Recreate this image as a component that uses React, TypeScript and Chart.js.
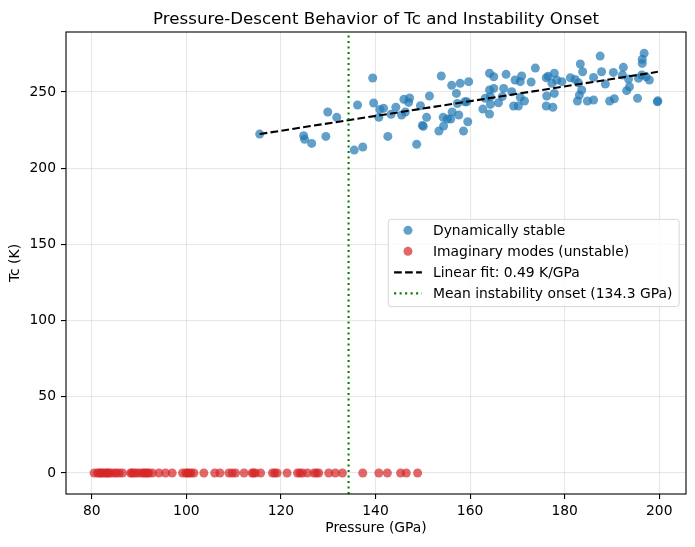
import React, { useEffect, useRef } from 'react';
import { Chart, registerables } from 'chart.js';

Chart.register(...registerables);

const chartTitle = 'Pressure-Descent Behavior of Tc and Instability Onset';
const xTitle = 'Pressure (GPa)';
const yTitle = 'Tc (K)';

// dynamically stable structures
const stablePressure = [
    115.5, 124.8, 125.0, 126.5, 129.5, 129.9, 131.8, 135.5, 136.2, 137.3,
    139.4, 139.6, 140.7, 140.9, 141.7, 142.6, 143.3, 144.3, 145.5, 146.0,
    146.3, 147.0, 147.2, 148.7, 149.5, 149.9, 150.1, 150.8, 151.4, 153.4,
    153.9, 154.3, 154.4, 155.2, 155.9, 156.1, 156.2, 157.1, 157.3, 157.6,
    157.9, 158.6, 158.9, 159.3, 159.5, 159.7, 162.7, 163.2, 164.1, 164.1,
    164.1, 164.3, 164.3, 165.0, 165.0, 166.0, 166.8, 167.1, 167.6, 168.8,
    169.2, 169.5, 170.2, 170.6, 170.6, 170.9, 171.5, 172.9, 173.8, 176.1,
    176.1, 176.2, 176.5, 177.3, 177.5, 177.8, 177.8, 178.3, 179.4, 181.2,
    182.2, 182.7, 182.9, 183.1, 183.3, 183.6, 183.8, 184.8, 186.1, 186.1,
    187.5, 187.8, 188.6, 189.5, 190.3, 190.5, 192.2, 192.4, 193.1, 193.5,
    193.7, 195.4, 195.6, 196.3, 196.4, 196.4, 196.8, 197.2, 197.9, 199.6,
    199.7,
];
const stableTc = [
    222.4, 221.3, 219.0, 216.3, 220.9, 236.9, 233.4, 211.9, 241.5, 213.9,
    259.2, 242.8, 233.4, 238.6, 239.3, 220.9, 235.4, 240.0, 234.9, 245.2,
    236.9, 243.2, 246.1, 215.7, 241.0, 228.1, 227.5, 233.4, 247.4, 224.4,
    260.5, 233.4, 227.7, 232.3, 232.3, 254.4, 236.9, 249.1, 242.5, 234.9,
    255.7, 224.4, 243.6, 243.6, 230.5, 256.8, 238.8, 245.9, 262.3, 251.3,
    235.6, 246.9, 241.9, 260.0, 252.4, 243.0, 247.0, 252.4, 261.6, 250.2,
    240.8, 257.9, 240.8, 256.8, 246.5, 260.5, 244.1, 256.6, 265.7, 259.4,
    240.8, 247.4, 260.4, 255.7, 240.0, 262.3, 249.1, 257.9, 256.8, 259.4,
    258.3, 244.1, 256.1, 248.0, 268.4, 251.3, 263.3, 244.1, 259.6, 244.8,
    273.6, 263.3, 255.2, 244.1, 262.9, 245.6, 261.2, 266.2, 250.9, 258.5,
    253.5, 245.9, 259.0, 261.2, 268.8, 271.5, 275.4, 260.0, 257.9, 243.6,
    244.2,
];

// structures with imaginary phonon modes, plotted at Tc = 0
const unstablePressure = [
    80.5, 81.2, 81.5, 81.9, 82.2, 82.6, 83.0, 83.3, 83.6, 84.0,
    84.7, 85.2, 85.8, 86.5, 88.2, 88.5, 88.9, 89.4, 90.0, 90.7,
    91.0, 91.4, 91.8, 92.1, 92.8, 94.2, 95.6, 97.0, 99.2, 99.9,
    100.2, 100.6, 101.0, 101.6, 103.7, 106.0, 107.1, 109.0, 109.7, 110.4,
    112.2, 113.9, 114.2, 114.6, 115.7, 118.2, 118.7, 119.2, 121.3, 123.5,
    124.0, 124.5, 125.6, 127.0, 127.5, 128.0, 130.1, 131.5, 133.0, 137.3,
    140.7, 142.5, 145.3, 146.5, 148.9,
];
const unstableTc = 0;

const fitSlope = 0.485;
const fitIntercept = 166.4;
const onsetPressure = 134.3;

const xMin = 74.55;
const xMax = 205.65;
const yMin = -13.8;
const yMax = 289.4;

const legendLabels = [
    'Dynamically stable',
    'Imaginary modes (unstable)',
    'Linear fit: 0.49 K/GPa',
    `Mean instability onset (${onsetPressure} GPa)`,
];

const FONT = '"DejaVu Sans", "Liberation Sans", sans-serif';
const BLUE = 'rgba(31, 119, 180, 0.7)';
const RED = 'rgba(214, 39, 40, 0.7)';
const GREEN = '#008000';
const DASH = [7.7, 3.3];
const DOT = [2.1, 3.4];
const LINE_W = 2.08;
const POINT_R = 4.5;

// title, axes frame and matplotlib-like legend
const decorPlugin = {
    id: 'decor',
    afterDatasetsDraw(chart: any) {
        const { ctx, chartArea } = chart;
        ctx.save();
        ctx.strokeStyle = '#000';
        ctx.lineWidth = 1.1;
        ctx.strokeRect(chartArea.left, chartArea.top, chartArea.right - chartArea.left, chartArea.bottom - chartArea.top);

        ctx.fillStyle = '#000';
        ctx.font = `16.67px ${FONT}`;
        ctx.textAlign = 'center';
        ctx.textBaseline = 'alphabetic';
        ctx.fillText(chartTitle, (chartArea.left + chartArea.right) / 2, 24.3);
        ctx.restore();
    },
    afterDraw(chart: any) {
        const { ctx, chartArea } = chart;
        const fs = 13.89;
        ctx.save();
        ctx.font = `${fs}px ${FONT}`;
        const textW = Math.max(...legendLabels.map((l) => ctx.measureText(l).width));
        const pad = 5.8;
        const handleLen = 27.8;
        const handleGap = 11.1;
        const rowH = 21;
        const w = pad * 2 + handleLen + handleGap + textW + 1;
        const h = rowH * legendLabels.length + 3.3;
        const x = chartArea.right - 6.9 - w;
        const y = (chartArea.top + chartArea.bottom) / 2 - h / 2;

        ctx.beginPath();
        ctx.roundRect(x, y, w, h, 2.8);
        ctx.fillStyle = 'rgba(255,255,255,0.8)';
        ctx.fill();
        ctx.strokeStyle = 'rgba(204,204,204,0.8)';
        ctx.lineWidth = 1;
        ctx.stroke();

        const hx0 = x + pad;
        const hx1 = hx0 + handleLen;
        legendLabels.forEach((label, i) => {
            const cy = y + 11 + i * rowH;
            if (i < 2) {
                ctx.beginPath();
                ctx.arc((hx0 + hx1) / 2, cy, POINT_R, 0, Math.PI * 2);
                ctx.fillStyle = i === 0 ? BLUE : RED;
                ctx.fill();
            } else {
                ctx.beginPath();
                ctx.setLineDash(i === 2 ? DASH : DOT);
                ctx.strokeStyle = i === 2 ? '#000' : GREEN;
                ctx.lineWidth = LINE_W;
                ctx.moveTo(hx0, cy);
                ctx.lineTo(hx1, cy);
                ctx.stroke();
                ctx.setLineDash([]);
            }
            ctx.fillStyle = '#000';
            ctx.textAlign = 'left';
            ctx.textBaseline = 'alphabetic';
            ctx.fillText(label, hx1 + handleGap, cy + 5);
        });
        ctx.restore();
    },
};

const App: React.FC = () => {
    const chartRef = useRef<HTMLCanvasElement | null>(null);

    useEffect(() => {
        if (!chartRef.current) return;

        const fitStart = Math.min(...stablePressure);
        const fitEnd = Math.max(...stablePressure);

        const tickFont = { family: FONT, size: 13.89 };

        const myChart = new Chart(chartRef.current, {
            type: 'scatter',
            data: {
                datasets: [
                    {
                        label: legendLabels[3],
                        data: [
                            { x: onsetPressure, y: yMin },
                            { x: onsetPressure, y: yMax },
                        ],
                        showLine: true,
                        borderColor: GREEN,
                        borderWidth: LINE_W,
                        borderDash: DOT,
                        pointRadius: 0,
                        order: 0,
                    },
                    {
                        label: legendLabels[2],
                        data: [
                            { x: fitStart, y: fitIntercept + fitSlope * fitStart },
                            { x: fitEnd, y: fitIntercept + fitSlope * fitEnd },
                        ],
                        showLine: true,
                        borderColor: '#000',
                        borderWidth: LINE_W,
                        borderDash: DASH,
                        pointRadius: 0,
                        order: 1,
                    },
                    {
                        label: legendLabels[1],
                        data: unstablePressure.map((p) => ({ x: p, y: unstableTc })),
                        backgroundColor: RED,
                        borderWidth: 0,
                        pointRadius: POINT_R,
                        order: 2,
                    },
                    {
                        label: legendLabels[0],
                        data: stablePressure.map((p, i) => ({ x: p, y: stableTc[i] })),
                        backgroundColor: BLUE,
                        borderWidth: 0,
                        pointRadius: POINT_R,
                        order: 3,
                    },
                ],
            },
            options: {
                responsive: false,
                animation: false,
                events: [],
                layout: { padding: { top: 32, right: 9, left: 0, bottom: 0 } },
                plugins: {
                    legend: { display: false },
                    tooltip: { enabled: false },
                },
                scales: {
                    x: {
                        type: 'linear',
                        min: xMin,
                        max: xMax,
                        afterFit: (scale: any) => {
                            scale.height = 53;
                        },
                        border: { display: false },
                        grid: {
                            color: 'rgba(176,176,176,0.3)',
                            lineWidth: 1.1,
                            tickLength: 5,
                            tickColor: '#000',
                            tickWidth: 1.1,
                        },
                        ticks: {
                            stepSize: 20,
                            includeBounds: false,
                            maxRotation: 0,
                            padding: 4,
                            color: '#000',
                            font: tickFont,
                        },
                        title: {
                            display: true,
                            text: xTitle,
                            color: '#000',
                            font: tickFont,
                            padding: { top: 0, bottom: 10 },
                        },
                    },
                    y: {
                        type: 'linear',
                        min: yMin,
                        max: yMax,
                        afterFit: (scale: any) => {
                            scale.width = 66;
                        },
                        border: { display: false },
                        grid: {
                            color: 'rgba(176,176,176,0.3)',
                            lineWidth: 1.1,
                            tickLength: 5,
                            tickColor: '#000',
                            tickWidth: 1.1,
                        },
                        ticks: {
                            stepSize: 50,
                            includeBounds: false,
                            padding: 5,
                            color: '#000',
                            font: tickFont,
                        },
                        title: {
                            display: true,
                            text: yTitle,
                            color: '#000',
                            font: tickFont,
                            padding: { top: 7, bottom: 0 },
                        },
                    },
                },
            },
            plugins: [decorPlugin],
        });

        return () => {
            myChart.destroy();
        };
    }, []);

    return (
        <div style={{ position: 'absolute', left: 0, top: 0, width: 695, height: 547, background: '#fff' }}>
            <canvas ref={chartRef} width={695} height={547} style={{ width: '695px', height: '547px' }} />
        </div>
    );
};

export default App;
